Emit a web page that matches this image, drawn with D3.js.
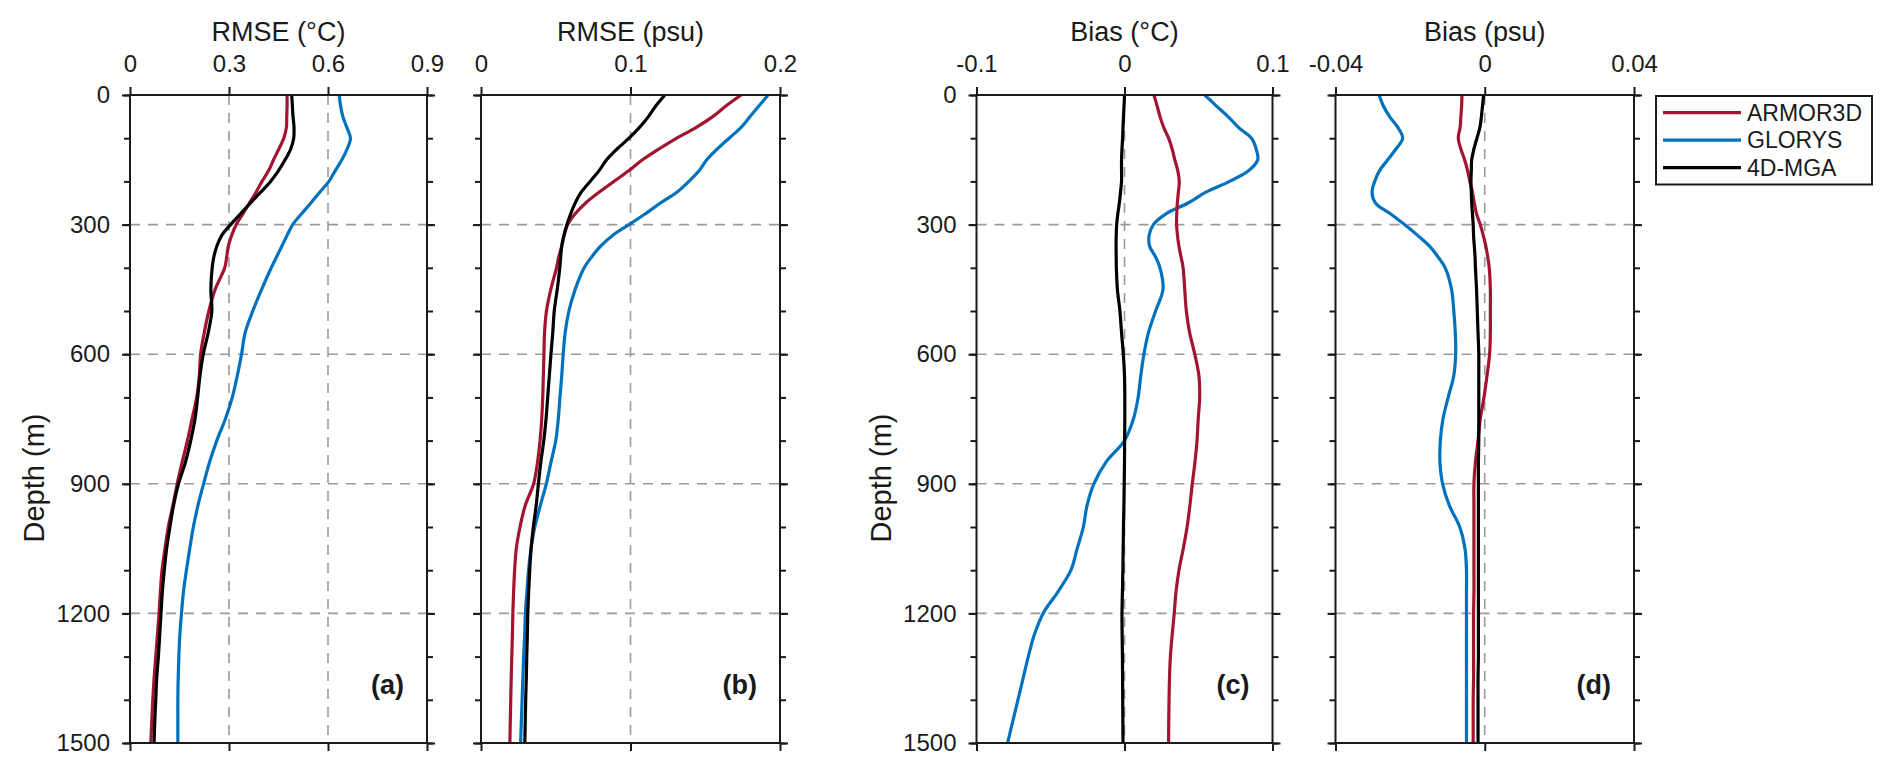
<!DOCTYPE html>
<html>
<head>
<meta charset="utf-8">
<script src="https://cdn.jsdelivr.net/npm/d3@7"></script>
<style>
  html, body { margin: 0; padding: 0; background: #fff; }
  svg { display: block; font-family: "Liberation Sans", Arial, Helvetica, sans-serif; }
</style>
</head>
<body>
<svg id="chart" width="1892" height="774"></svg>
<script>
// ---------------- DATA ----------------
const seriesNames = ["ARMOR3D", "GLORYS", "4D-MGA"];
const depths = [0,25,50,75,100,125,150,175,200,225,250,275,300,325,350,375,400,
  450,500,550,600,650,700,750,800,850,900,950,1000,1050,1100,1150,1200,1250,1300,1350,1400,1450,1500];

// (a) RMSE temperature (°C)
const rmseT_ARMOR3D = [.476,.476,.475,.474,.466,.451,.435,.42,.40,.382,.362,.342,.322,.308,.298,.293,.287,
  .258,.239,.225,.214,.21,.202,.188,.174,.158,.143,.13,.116,.106,.097,.092,.088,.083,.078,.073,.069,.066,.063];
const rmseT_GLORYS = [.634,.638,.645,.657,.668,.658,.642,.622,.603,.575,.548,.52,.493,.476,.46,.444,.428,
  .399,.372,.349,.338,.325,.31,.289,.263,.241,.223,.206,.192,.181,.171,.162,.156,.151,.148,.146,.145,.145,.145];
const rmseT_4DMGA = [.490,.492,.494,.497,.496,.487,.47,.45,.426,.396,.365,.335,.305,.278,.263,.254,.249,
  .245,.248,.237,.222,.212,.205,.197,.184,.168,.147,.132,.121,.111,.104,.098,.094,.09,.086,.081,.078,.075,.073];

// (b) RMSE salinity (psu)
const rmseS_ARMOR3D = [.174,.164,.155,.144,.131,.119,.108,.099,.089,.079,.070,.063,.058,.0555,.054,.052,.0505,
  .0467,.0438,.0425,.0421,.0417,.0413,.0406,.0395,.0378,.0352,.0296,.0261,.0236,.0225,.0218,.0213,.021,.0206,.0202,.0199,.0196,.0193];
const rmseS_GLORYS = [.192,.186,.18,.174,.166,.158,.151,.146,.139,.131,.12,.11,.099,.088,.08,.074,.069,
  .063,.0588,.0563,.055,.054,.0528,.0517,.05,.0468,.0437,.0397,.036,.0335,.0318,.0307,.0297,.0292,.0285,.028,.0275,.027,.0265];
const rmseS_4DMGA = [.123,.117,.112,.106,.099,.091,.084,.079,.073,.067,.063,.06,.0575,.0555,.054,.0533,.0527,
  .051,.049,.048,.0468,.0457,.0446,.0435,.042,.04,.0384,.0369,.035,.0335,.0326,.0319,.0313,.031,.0306,.0303,.0299,.0296,.0293];

// (c) Bias temperature (°C)
const biasT_ARMOR3D = [.0199,.022,.024,.0265,.0298,.0322,.034,.036,.037,.0364,.0357,.0353,.0352,.0358,.0368,.0382,.0396,
  .0407,.0418,.044,.0475,.0503,.0508,.0498,.049,.0476,.0458,.0442,.0423,.0397,.0368,.0348,.0336,.0322,.031,.0304,.0301,.0299,.0298];
const biasT_GLORYS = [.0542,.062,.07,.077,.0858,.089,.090,.084,.071,.055,.043,.028,.0195,.0166,.017,.021,.024,
  .026,.021,.0162,.0131,.011,.0092,.006,0,-.0125,-.0207,-.0253,-.0278,-.032,-.0362,-.045,-.055,-.061,-.065,-.0685,-.072,-.0755,-.079];
const biasT_4DMGA = [0,-.0003,-.0007,-.001,-.0013,-.0017,-.002,-.002,-.002,-.0027,-.0035,-.0045,-.0053,-.0056,-.0057,-.0056,-.0055,
  -.0048,-.0031,-.002,-.0008,0,.0002,.0002,.0001,0,-.0002,-.0004,-.0007,-.0009,-.0011,-.0014,-.0017,-.0016,-.0014,-.0013,-.0012,-.0011,-.001];

// (d) Bias salinity (psu)
const biasS_ARMOR3D = [-.0061,-.0062,-.0064,-.0066,-.0071,-.0064,-.0054,-.0046,-.004,-.0033,-.0028,-.0022,-.0012,-.0004,.0003,.0008,.0012,
  .0015,.0015,.0015,.0013,.0006,-.0002,-.0012,-.0018,-.0025,-.0029,-.0029,-.0029,-.0029,-.0029,-.0029,-.003,-.003,-.003,-.003,-.0031,-.0031,-.0031];
const biasS_GLORYS = [-.0283,-.0272,-.0255,-.0233,-.022,-.0238,-.026,-.0282,-.0295,-.0302,-.0293,-.0253,-.0215,-.018,-.0148,-.0125,-.0106,
  -.0089,-.0083,-.0079,-.0078,-.0083,-.0098,-.0112,-.0119,-.012,-.0113,-.0095,-.0067,-.0053,-.0049,-.0049,-.0049,-.0049,-.0049,-.0049,-.0049,-.0049,-.0049];
const biasS_4DMGA = [-.0003,-.0006,-.0009,-.0013,-.0021,-.0029,-.0035,-.0036,-.0037,-.0036,-.0035,-.0033,-.0031,-.003,-.0028,-.0026,-.0025,
  -.0022,-.002,-.0018,-.0016,-.0016,-.0016,-.0016,-.0016,-.0017,-.0017,-.0017,-.0017,-.0017,-.0017,-.0017,-.0017,-.0017,-.0017,-.0018,-.0018,-.0018,-.0018];

// ticks / labels
const depthTicks = [0,300,600,900,1200,1500];
const depthMinorTicks = d3.range(0, 1501, 100);
const depthGrid = [300,600,900,1200];
const ticksA = [0,0.3,0.6,0.9], labelsA = ["0","0.3","0.6","0.9"], gridA = [0.3,0.6];
const ticksB = [0,0.1,0.2], labelsB = ["0","0.1","0.2"], gridB = [0.1];
const ticksC = [-0.1,0,0.1], labelsC = ["-0.1","0","0.1"], gridC = [0];
const ticksD = [-0.04,0,0.04], labelsD = ["-0.04","0","0.04"], gridD = [0];
const titles = ["RMSE (\u00B0C)", "RMSE (psu)", "Bias (\u00B0C)", "Bias (psu)"];
const panelTags = ["(a)", "(b)", "(c)", "(d)"];
const yLabel = "Depth (m)";

// ---------------- STYLE / LAYOUT ----------------
const colors = { "ARMOR3D": "#A2142F", "GLORYS": "#0072BD", "4D-MGA": "#000000" };
const plotTop = 95, plotBottom = 743;

const panels = [
  { x0: 130, x1: 427, domain: [0, 0.9], ticks: ticksA, labels: labelsA, grid: gridA, depthLabels: true,
    data: { "ARMOR3D": rmseT_ARMOR3D, "GLORYS": rmseT_GLORYS, "4D-MGA": rmseT_4DMGA } },
  { x0: 481, x1: 780, domain: [0, 0.2], ticks: ticksB, labels: labelsB, grid: gridB, depthLabels: false,
    data: { "ARMOR3D": rmseS_ARMOR3D, "GLORYS": rmseS_GLORYS, "4D-MGA": rmseS_4DMGA } },
  { x0: 976.5, x1: 1272.5, domain: [-0.1, 0.1], ticks: ticksC, labels: labelsC, grid: gridC, depthLabels: true,
    data: { "ARMOR3D": biasT_ARMOR3D, "GLORYS": biasT_GLORYS, "4D-MGA": biasT_4DMGA } },
  { x0: 1335.5, x1: 1634, domain: [-0.04, 0.04], ticks: ticksD, labels: labelsD, grid: gridD, depthLabels: false,
    data: { "ARMOR3D": biasS_ARMOR3D, "GLORYS": biasS_GLORYS, "4D-MGA": biasS_4DMGA } }
];

const svg = d3.select("#chart");
const y = d3.scaleLinear().domain([0, 1500]).range([plotTop, plotBottom]);

panels.forEach((p, i) => {
  const x = d3.scaleLinear().domain(p.domain).range([p.x0, p.x1]);
  const g = svg.append("g");

  // grid
  g.selectAll("line.hgrid").data(depthGrid).join("line")
    .attr("x1", p.x0).attr("x2", p.x1)
    .attr("y1", d => y(d)).attr("y2", d => y(d))
    .attr("stroke", "#9a9a9a").attr("stroke-width", 1.6).attr("stroke-dasharray", "10,8");
  g.selectAll("line.vgrid").data(p.grid).join("line")
    .attr("x1", d => x(d)).attr("x2", d => x(d))
    .attr("y1", plotTop).attr("y2", plotBottom)
    .attr("stroke", "#9a9a9a").attr("stroke-width", 1.6).attr("stroke-dasharray", "10,8");

  // series
  const clipId = "clip" + i;
  svg.append("clipPath").attr("id", clipId).append("rect")
    .attr("x", p.x0).attr("y", plotTop).attr("width", p.x1 - p.x0).attr("height", plotBottom - plotTop);
  const line = d3.line()
    .x(d => x(d[1])).y(d => y(d[0]))
    .curve(d3.curveCatmullRom.alpha(0.5));
  ["GLORYS", "ARMOR3D", "4D-MGA"].forEach(name => {
    const pts = depths.map((dep, k) => [dep, p.data[name][k]]);
    g.append("path").datum(pts)
      .attr("clip-path", `url(#${clipId})`)
      .attr("d", line)
      .attr("fill", "none")
      .attr("stroke", colors[name])
      .attr("stroke-width", 3.2)
      .attr("stroke-linejoin", "round");
  });

  // frame
  g.append("rect").attr("x", p.x0).attr("y", plotTop)
    .attr("width", p.x1 - p.x0).attr("height", plotBottom - plotTop)
    .attr("fill", "none").attr("stroke", "#1a1a1a").attr("stroke-width", 2);

  // axes
  const styleAxis = sel => {
    sel.select(".domain").remove();
    sel.selectAll(".tick line").attr("stroke", "#1a1a1a").attr("stroke-width", 2);
    sel.selectAll(".tick text").attr("fill", "#1a1a1a").style("font-family", "'Liberation Sans', Arial, sans-serif");
  };
  const fmt = d => p.labels[p.ticks.indexOf(d)];
  g.append("g").attr("transform", `translate(0,${plotTop})`)
    .call(d3.axisTop(x).tickValues(p.ticks).tickFormat(fmt).tickSize(8).tickSizeOuter(0).tickPadding(15))
    .call(styleAxis)
    .selectAll(".tick text").style("font-size", "24px");
  g.append("g").attr("transform", `translate(0,${plotBottom})`)
    .call(d3.axisBottom(x).tickValues(p.ticks).tickFormat("").tickSize(8).tickSizeOuter(0))
    .call(styleAxis);

  // left / right minor
  g.append("g").attr("transform", `translate(${p.x0},0)`)
    .call(d3.axisLeft(y).tickValues(depthMinorTicks).tickFormat("").tickSize(6).tickSizeOuter(0))
    .call(styleAxis);
  g.append("g").attr("transform", `translate(${p.x1},0)`)
    .call(d3.axisRight(y).tickValues(depthMinorTicks).tickFormat("").tickSize(6).tickSizeOuter(0))
    .call(styleAxis);
  // left / right major
  g.append("g").attr("transform", `translate(${p.x0},0)`)
    .call(d3.axisLeft(y).tickValues(depthTicks).tickFormat(p.depthLabels ? d3.format("d") : "")
      .tickSize(8).tickSizeOuter(0).tickPadding(12))
    .call(styleAxis)
    .selectAll(".tick text").style("font-size", "24px");
  g.append("g").attr("transform", `translate(${p.x1},0)`)
    .call(d3.axisRight(y).tickValues(depthTicks).tickFormat("").tickSize(8).tickSizeOuter(0))
    .call(styleAxis);

  // title
  g.append("text")
    .attr("x", (p.x0 + p.x1) / 2).attr("y", 41)
    .attr("text-anchor", "middle")
    .attr("font-size", 27).attr("fill", "#1a1a1a")
    .text(titles[i]);

  // panel tag
  g.append("text")
    .attr("x", p.x1 - 23).attr("y", 694)
    .attr("text-anchor", "end")
    .attr("font-size", 27).attr("font-weight", "bold").attr("fill", "#1a1a1a")
    .text(panelTags[i]);

  // y label
  if (p.depthLabels) {
    const lx = p.x0 - 86;
    g.append("text")
      .attr("transform", `translate(${lx},478) rotate(-90)`)
      .attr("text-anchor", "middle")
      .attr("font-size", 29).attr("fill", "#1a1a1a")
      .text(yLabel);
  }
});

// legend
const lg = svg.append("g");
lg.append("rect").attr("x", 1656).attr("y", 96).attr("width", 216).attr("height", 88.5)
  .attr("fill", "#fff").attr("stroke", "#1a1a1a").attr("stroke-width", 2);
const legendY = d3.scalePoint().domain(seriesNames).range([112.7, 167.7]);
seriesNames.forEach(name => {
  lg.append("line").attr("x1", 1663).attr("x2", 1741)
    .attr("y1", legendY(name)).attr("y2", legendY(name))
    .attr("stroke", colors[name]).attr("stroke-width", 3.2);
  lg.append("text").attr("x", 1747).attr("y", legendY(name))
    .attr("dy", "0.36em")
    .attr("font-size", 23).attr("fill", "#1a1a1a")
    .text(name);
});
</script>
</body>
</html>
